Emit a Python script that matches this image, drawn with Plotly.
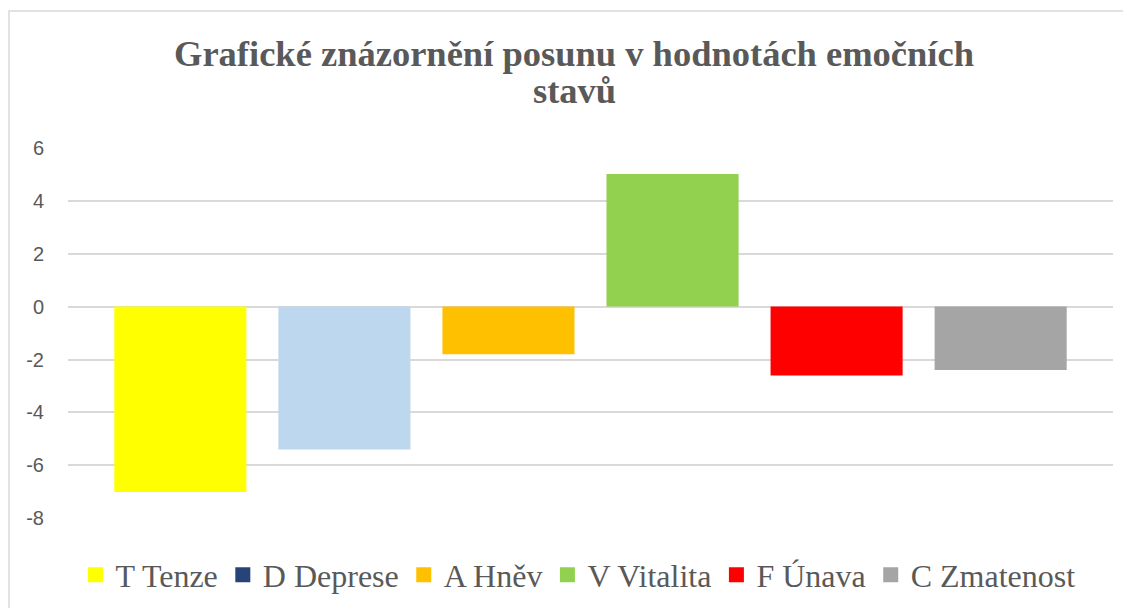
import plotly.graph_objects as go

# ---- data ----
series_names = ["T Tenze", "D Deprese", "A Hněv", "V Vitalita", "F Únava", "C Zmatenost"]
series_values = [-7.0, -5.4, -1.8, 5.0, -2.6, -2.4]
bar_colors = ["#FFFF00", "#BDD7EE", "#FFC000", "#92D050", "#FF0000", "#A5A5A5"]
legend_colors = ["#FFFF00", "#264478", "#FFC000", "#92D050", "#FF0000", "#A5A5A5"]
tick_values = [-8, -6, -4, -2, 0, 2, 4, 6]
tick_labels = ["-8", "-6", "-4", "-2", "0", "2", "4", "6"]
category = [""]

title_lines = ["Grafické znázornění posunu v hodnotách emočních", "stavů"]

fig = go.Figure()

for name, val, col in zip(series_names, series_values, bar_colors):
    fig.add_trace(go.Bar(
        x=category, y=[val], name=name, marker=dict(color=col, line=dict(width=0)),
        showlegend=False, hoverinfo="y+name",
    ))

for name, col in zip(series_names, legend_colors):
    fig.add_trace(go.Scatter(
        x=[None], y=[None], name=name, mode="markers",
        marker=dict(symbol="square", size=15, color=col),
        showlegend=True,
    ))

# page body has an 8px margin, so the figure is drawn 8px in from the corner
O = 8
W, H = 1131 - O, 608 - O
pl, pr, pt, pb = 68 - O, 1113 - O, 147 - O, 519 - O

serif = "Liberation Serif, Times New Roman, serif"

fig.update_layout(
    width=W, height=H,
    margin=dict(l=pl, r=W - pr, t=pt, b=H - pb, pad=0),
    paper_bgcolor="white", plot_bgcolor="white",
    barmode="group", bargap=0.058, bargroupgap=0.195,
    legend=dict(
        orientation="h", xref="container", yref="container",
        x=(578 - O) / W, xanchor="center", y=1 - (575 - O) / H, yanchor="middle",
        font=dict(family=serif, size=32, color="#595959"),
        itemsizing="trace", traceorder="normal", bgcolor="rgba(0,0,0,0)",
    ),
    xaxis=dict(showticklabels=False, showgrid=False, zeroline=False, showline=False, ticks=""),
    yaxis=dict(
        range=[-8.02, 6.02], tickvals=tick_values, ticktext=tick_labels,
        showgrid=True, gridcolor="#D9D9D9", gridwidth=1.5, zeroline=False, showline=False,
        ticks="", ticklabelstandoff=23,
        tickfont=dict(family="Liberation Sans, Arial, sans-serif", size=20, color="#595959"),
    ),
    showlegend=True,
)

# title as two centred lines (tight line spacing as in the reference)
for line, yc in zip(title_lines, [53 - O, 91 - O]):
    fig.add_annotation(
        text="<b>" + line + "</b>", xref="paper", yref="paper",
        x=((574 - O) - pl) / (pr - pl), y=(pb - yc) / (pb - pt),
        xanchor="center", yanchor="middle", showarrow=False,
        font=dict(family=serif, size=36.5, color="#595959"),
    )

# chart-area border (light gray frame)
ph = pb - pt
pw = pr - pl
fig.add_shape(
    type="rect", xref="paper", yref="paper",
    x0=(9 - O - pl) / pw, x1=(1200 - pl) / pw,
    y0=(pb - 700) / ph, y1=(pb - (11 - O)) / ph,
    line=dict(color="#D9D9D9", width=1.5), fillcolor="rgba(0,0,0,0)", layer="below",
)

fig.write_html("out.html")
